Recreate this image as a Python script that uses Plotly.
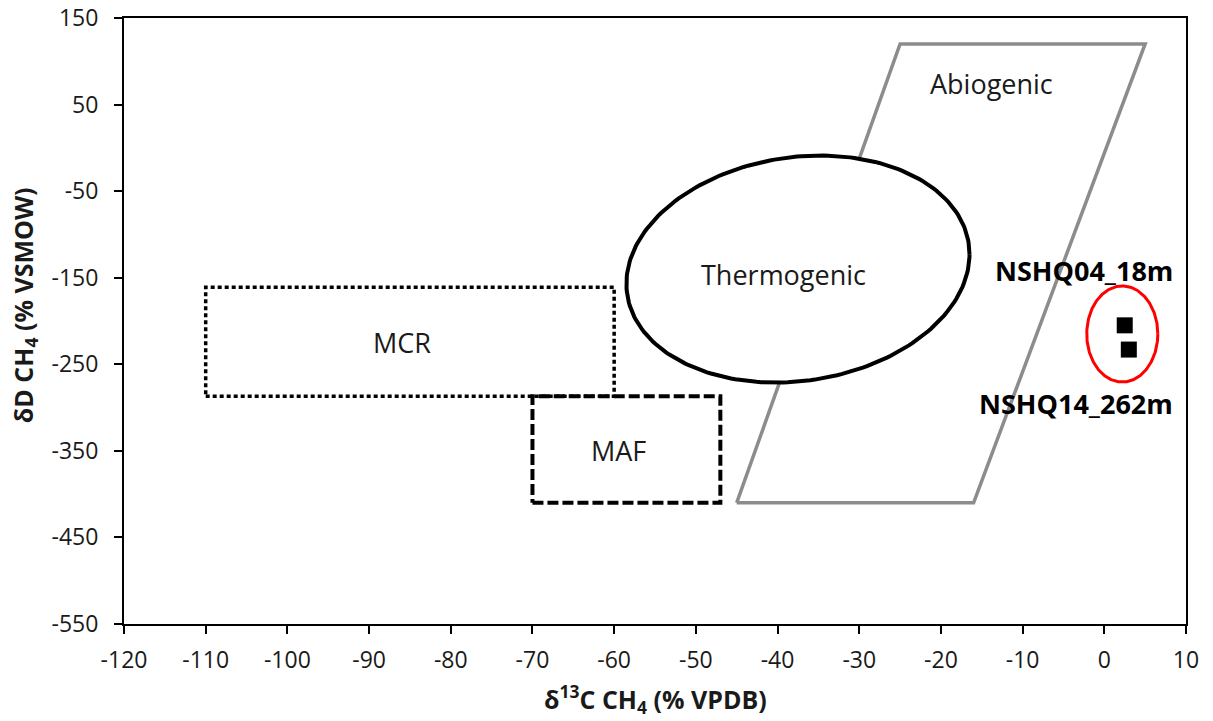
import numpy as np
import plotly.graph_objects as go

# Sample measurements: delta13C-CH4 (x) and deltaD-CH4 (y)
sample_names = ["NSHQ04_18m", "NSHQ14_262m"]
sample_d13c = [2.5, 3.0]
sample_dD = [-205, -233]

# Genetic field outlines
abiogenic_d13c = [-45, -16, 5, -25, -45]
abiogenic_dD = [-410, -410, 120, 120, -410]

mcr_d13c = [-110, -60]      # microbial carbonate reduction (x range)
mcr_dD = [-287, -161]       # (y range)
maf_d13c = [-70, -47]       # microbial acetate fermentation (x range)
maf_dD = [-410, -287]       # (y range)

# Thermogenic field: centre, half-widths and tilt (dD shift at the right edge)
thermo_center = (-37.5, -140)
thermo_half = (21.0, 130.0)
thermo_tilt = 17.0

# Ring around the two samples
ring_center = (2.2, -215)
ring_half = (4.35, 55.5)

# Field labels
field_names = ["Abiogenic", "Thermogenic", "MCR", "MAF"]
field_label_d13c = [-13.8, -39.3, -86.0, -59.5]
field_label_dD = [74, -146, -225, -350]

# Sample label anchors (right aligned)
sample_label_d13c = 8.6
sample_label_dD = [-142, -295]

# Axis ticks
x_ticks = list(range(-120, 11, 10))
y_ticks = list(range(-550, 151, 100))


def rect(xr, yr):
    return ([xr[0], xr[1], xr[1], xr[0], xr[0]],
            [yr[0], yr[0], yr[1], yr[1], yr[0]])


def ellipse(center, half, tilt=0.0, n=240):
    t = np.linspace(0, 2 * np.pi, n)
    x = center[0] + half[0] * np.cos(t)
    y = center[1] + half[1] * np.sin(t) + tilt * np.cos(t)
    return x, y


FONT = "Open Sans, Noto Sans, sans-serif"

fig = go.Figure()

# Abiogenic parallelogram
fig.add_trace(go.Scatter(
    x=abiogenic_d13c, y=abiogenic_dD, mode="lines",
    line=dict(color="#8c8c8c", width=3.5), hoverinfo="skip", showlegend=False))

# Thermogenic ellipse (white filled, covers the abiogenic outline)
tx, ty = ellipse(thermo_center, thermo_half, thermo_tilt)
fig.add_trace(go.Scatter(
    x=tx, y=ty, mode="lines", fill="toself", fillcolor="white",
    line=dict(color="black", width=4), hoverinfo="skip", showlegend=False))

# MCR box (dotted)
mx, my = rect(mcr_d13c, mcr_dD)
fig.add_trace(go.Scatter(
    x=mx, y=my, mode="lines",
    line=dict(color="black", width=3.5, dash="4px,3px"),
    hoverinfo="skip", showlegend=False))

# MAF box (dashed)
fx, fy = rect(maf_d13c, maf_dD)
fig.add_trace(go.Scatter(
    x=fx, y=fy, mode="lines",
    line=dict(color="black", width=4, dash="11px,4px"),
    hoverinfo="skip", showlegend=False))

# Red ring around samples
rx, ry = ellipse(ring_center, ring_half)
fig.add_trace(go.Scatter(
    x=rx, y=ry, mode="lines",
    line=dict(color="#ff0000", width=3), hoverinfo="skip", showlegend=False))

# Samples
fig.add_trace(go.Scatter(
    x=sample_d13c, y=sample_dD, mode="markers", text=sample_names,
    marker=dict(symbol="square", size=16, color="black"),
    showlegend=False))

annotations = []
for name, x, y in zip(field_names, field_label_d13c, field_label_dD):
    annotations.append(dict(
        x=x, y=y, xref="x", yref="y", text=name, showarrow=False,
        xanchor="center", yanchor="middle",
        font=dict(family=FONT, size=27, color="#1a1a1a")))

for name, y in zip(sample_names, sample_label_dD):
    annotations.append(dict(
        x=sample_label_d13c, y=y, xref="x", yref="y",
        text="<b>%s</b>" % name, showarrow=False,
        xanchor="right", yanchor="middle",
        font=dict(family=FONT, size=27, color="black")))

# Axis titles
annotations.append(dict(
    x=0.5, y=-0.088, xref="paper", yref="paper", yanchor="top",
    text="<b>δ<sup>13</sup>C CH<sub>4</sub> (% VPDB)</b>", showarrow=False,
    font=dict(family=FONT, size=25, color="#1a1a1a")))
annotations.append(dict(
    x=-0.113, y=0.527, xref="paper", yref="paper", xanchor="left",
    yanchor="middle", textangle=-90,
    text="<b>δD CH<sub>4</sub> (% VSMOW)</b>", showarrow=False,
    font=dict(family=FONT, size=25, color="#1a1a1a")))

axis_common = dict(
    showline=True, linecolor="black", linewidth=2, mirror=True,
    ticks="outside", ticklen=8, tickwidth=2, tickcolor="black",
    showgrid=False, zeroline=False, automargin=False,
    tickfont=dict(family=FONT, size=23, color="#1a1a1a"),
)

fig.update_layout(
    width=1213, height=721, autosize=False,
    margin=dict(l=124, r=27, t=18, b=97, autoexpand=False),
    paper_bgcolor="white", plot_bgcolor="white",
    xaxis=dict(range=[-120, 10], tickmode="array", tickvals=x_ticks,
               ticktext=[str(v) for v in x_ticks],
               ticklabelstandoff=6, **axis_common),
    yaxis=dict(range=[-550, 150], tickmode="array", tickvals=y_ticks,
               ticktext=[str(v) for v in y_ticks],
               ticklabelstandoff=11, **axis_common),
    annotations=annotations,
)

fig.write_html("out.html")
